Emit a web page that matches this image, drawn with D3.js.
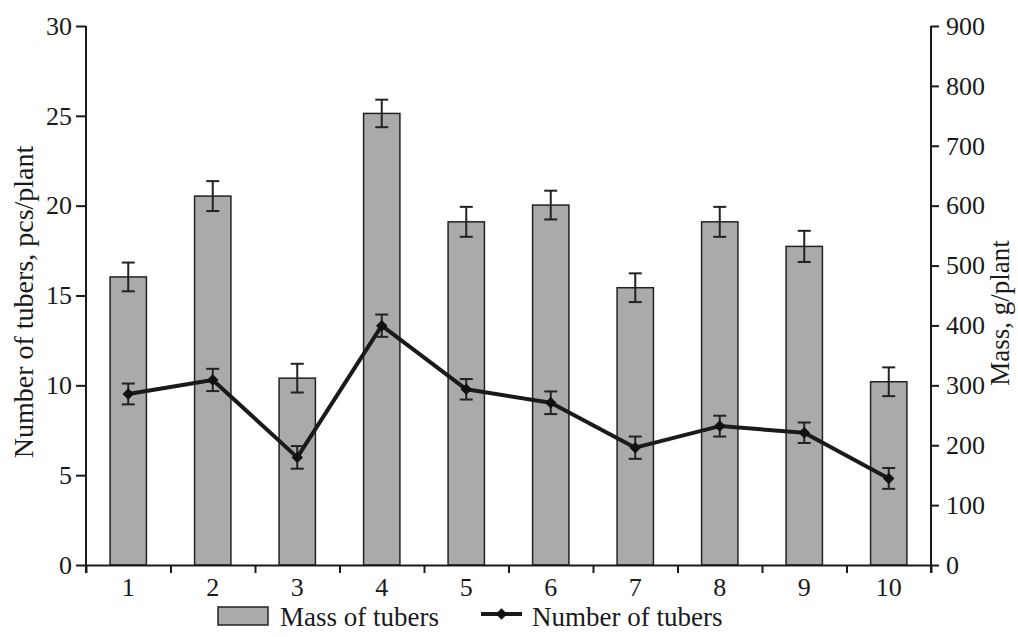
<!DOCTYPE html>
<style>
body { margin: 0; background: #fff; }
text { font-family: 'Liberation Serif', 'Times New Roman', serif; fill: #1a1a1a; }
.axis { font-size: 26px; }
.axis path, .axis line { stroke: #1a1a1a; stroke-width: 2px; fill: none; }
.bar { fill: #aaaaaa; stroke: #222; stroke-width: 1.5px; }
.err { stroke: #222; stroke-width: 2px; }
.data-line { fill: none; stroke: #1a1a1a; stroke-width: 4px; stroke-linejoin: round; }
.axis-title { font-size: 28px; text-anchor: middle; }
.legend text { font-size: 27px; }
</style>
<svg width="1018" height="637"></svg>
<script src="https://d3js.org/d3.v7.min.js"></script>
<script>
var categories = ["1", "2", "3", "4", "5", "6", "7", "8", "9", "10"];
var massValues = [481, 616, 312, 754, 573, 601, 463, 573, 532, 306];
var massErrors = [24, 25, 24, 23, 25, 24, 24, 25, 26, 24];
var countValues = [9.52, 10.3, 5.99, 13.32, 9.78, 9.03, 6.53, 7.73, 7.36, 4.82];
var countErrors = [0.58, 0.62, 0.63, 0.62, 0.57, 0.63, 0.62, 0.58, 0.57, 0.58];
var leftTicks = [0, 5, 10, 15, 20, 25, 30];
var rightTicks = [0, 100, 200, 300, 400, 500, 600, 700, 800, 900];

var svg = d3.select("svg"),
    plotLeft = 86, plotRight = 931, plotTop = 26, plotBottom = 565;

var x = d3.scaleBand()
    .domain(categories)
    .range([plotLeft, plotRight])
    .paddingInner(0.57)
    .paddingOuter(0.285);

var xEdge = d3.scaleLinear().domain([0, categories.length]).range([plotLeft, plotRight]);

var yL = d3.scaleLinear().domain([0, 30]).range([plotBottom, plotTop]);
var yR = d3.scaleLinear().domain([0, 900]).range([plotBottom, plotTop]);

var data = categories.map(function(c, i) {
  return {cat: c, mass: massValues[i], massErr: massErrors[i], count: countValues[i], countErr: countErrors[i]};
});

var cxf = function(d) { return x(d.cat) + x.bandwidth() / 2; };

// bars
svg.append("g").selectAll("rect")
    .data(data)
  .enter().append("rect")
    .attr("class", "bar")
    .attr("x", function(d) { return x(d.cat); })
    .attr("width", x.bandwidth())
    .attr("y", function(d) { return yR(d.mass); })
    .attr("height", function(d) { return yR(0) - yR(d.mass); });

// error bars
function errorBars(g, scale, val, err) {
  g.selectAll(".v").data(data).enter().append("line").attr("class", "err")
      .attr("x1", cxf).attr("x2", cxf)
      .attr("y1", function(d) { return scale(d[val] + d[err]); })
      .attr("y2", function(d) { return scale(d[val] - d[err]); });
  [1, -1].forEach(function(s) {
    g.selectAll(".c" + s).data(data).enter().append("line").attr("class", "err")
        .attr("x1", function(d) { return cxf(d) - 6.5; })
        .attr("x2", function(d) { return cxf(d) + 6.5; })
        .attr("y1", function(d) { return scale(d[val] + s * d[err]); })
        .attr("y2", function(d) { return scale(d[val] + s * d[err]); });
  });
}
errorBars(svg.append("g"), yR, "mass", "massErr");

// axes
svg.append("g")
    .attr("class", "axis")
    .attr("transform", "translate(" + plotLeft + ",0)")
    .call(d3.axisLeft(yL).tickValues(leftTicks).tickSize(10).tickPadding(4).tickSizeOuter(0))
    .select(".domain").attr("d", "M0," + plotTop + "V" + (plotBottom + 8));

svg.append("g")
    .attr("class", "axis")
    .attr("transform", "translate(" + plotRight + ",0)")
    .call(d3.axisRight(yR).tickValues(rightTicks).tickSize(8).tickPadding(7).tickSizeOuter(0))
    .select(".domain").attr("d", "M0," + plotTop + "V" + (plotBottom + 8));

svg.append("g")
    .attr("class", "axis")
    .attr("transform", "translate(0," + plotBottom + ")")
    .call(d3.axisBottom(xEdge).ticks(10).tickSize(8).tickFormat("").tickSizeOuter(0));

svg.append("g")
    .attr("class", "axis")
    .attr("transform", "translate(0," + plotBottom + ")")
    .call(d3.axisBottom(x).tickSize(0).tickPadding(13))
    .select(".domain").remove();

// line
svg.append("path")
    .datum(data)
    .attr("class", "data-line")
    .attr("d", d3.line().x(cxf).y(function(d) { return yL(d.count); }));

errorBars(svg.append("g"), yL, "count", "countErr");

var diamond = d3.symbol().type(d3.symbolSquare).size(66);
svg.append("g").selectAll("path")
    .data(data)
  .enter().append("path")
    .attr("d", diamond)
    .attr("fill", "#111")
    .attr("transform", function(d) { return "translate(" + cxf(d) + "," + yL(d.count) + ") rotate(45)"; });

// axis titles
svg.append("text")
    .attr("class", "axis-title")
    .attr("transform", "translate(33,302) rotate(-90)")
    .text("Number of tubers, pcs/plant");

svg.append("text")
    .attr("class", "axis-title")
    .style("font-size", "27px")
    .attr("transform", "translate(992,313) rotate(-90)")
    .attr("dy", "0.62em")
    .text("Mass, g/plant");

// legend
var legend = svg.append("g").attr("class", "legend");
legend.append("rect")
    .attr("class", "bar")
    .attr("x", 218).attr("y", 607).attr("width", 50).attr("height", 18);
legend.append("text").attr("x", 280).attr("y", 626).text("Mass of tubers");
legend.append("line")
    .attr("x1", 481).attr("x2", 522).attr("y1", 614).attr("y2", 614)
    .attr("stroke", "#1a1a1a").attr("stroke-width", 4);
legend.append("path")
    .attr("d", diamond)
    .attr("fill", "#111")
    .attr("transform", "translate(501.5,614) rotate(45)");
legend.append("text").attr("x", 532).attr("y", 626).text("Number of tubers");
</script>
